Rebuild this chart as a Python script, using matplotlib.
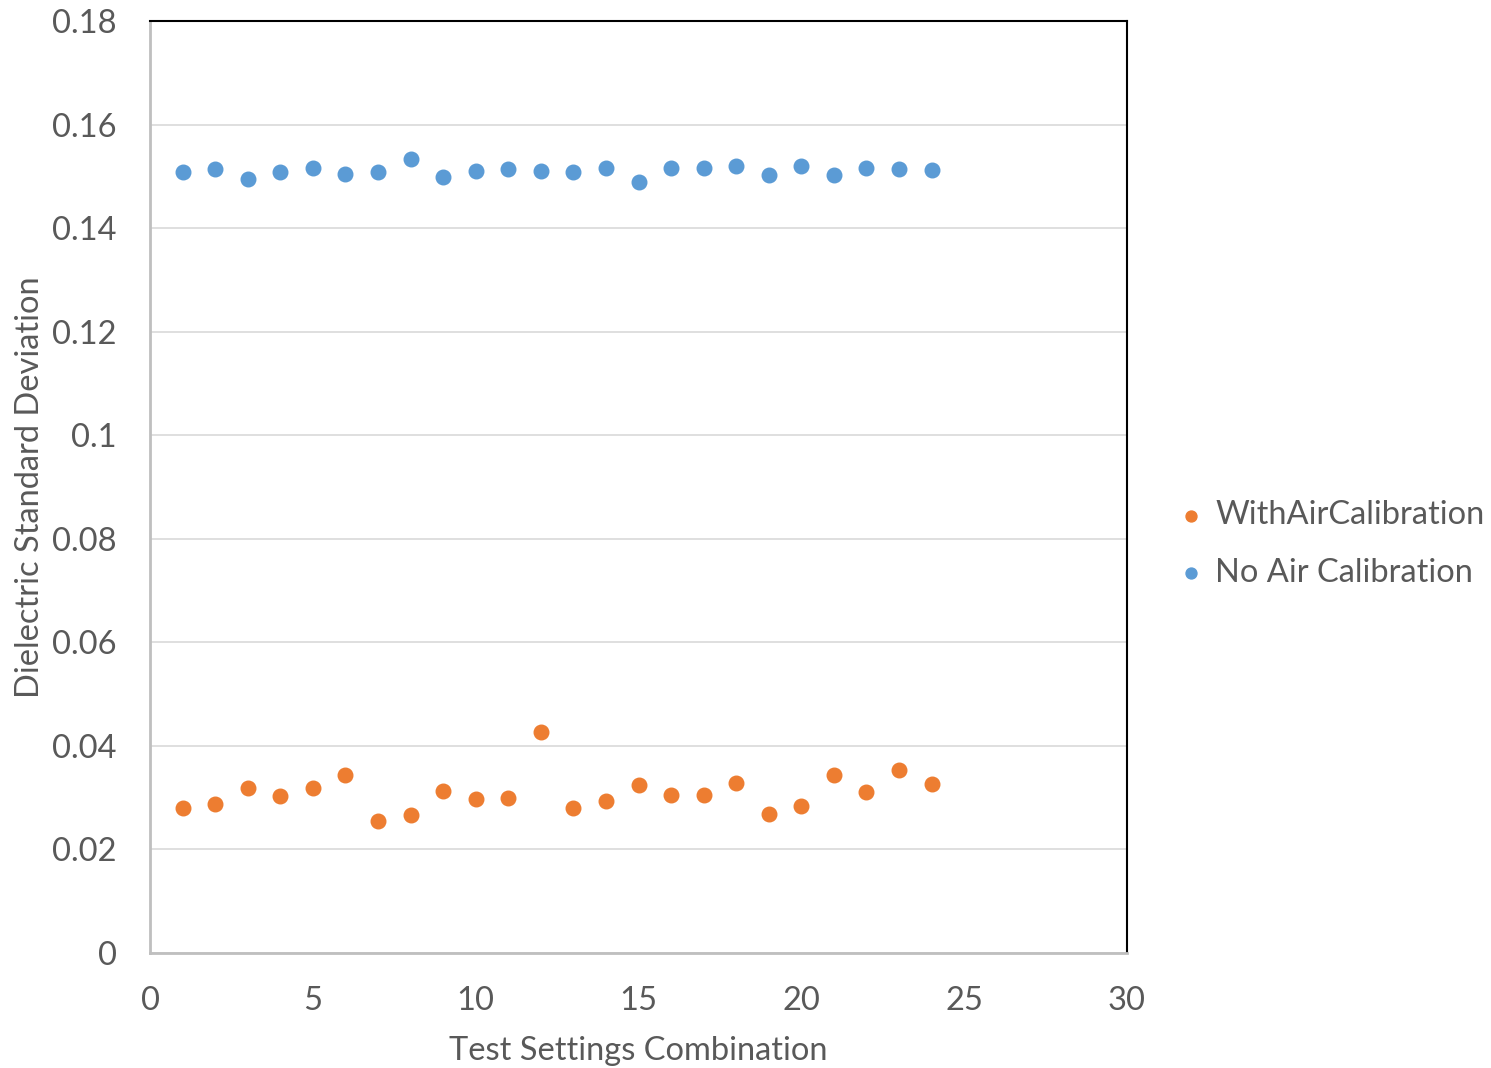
import matplotlib
matplotlib.use("Agg")
import matplotlib.pyplot as plt

combos = list(range(1, 25))
with_air = [0.0281, 0.0288, 0.0318, 0.0303, 0.0319, 0.0344, 0.0254, 0.0267,
            0.0312, 0.0297, 0.0299, 0.0426, 0.0281, 0.0293, 0.0324, 0.0305,
            0.0305, 0.0328, 0.0269, 0.0283, 0.0343, 0.0311, 0.0353, 0.0327]
no_air = [0.1509, 0.1514, 0.1495, 0.1509, 0.1516, 0.1504, 0.1508, 0.1534,
          0.1499, 0.1511, 0.1514, 0.1510, 0.1508, 0.1517, 0.1490, 0.1516,
          0.1517, 0.1520, 0.1503, 0.1519, 0.1503, 0.1517, 0.1515, 0.1512]

text_color = "#595959"
plt.rcParams["font.family"] = ["Lato", "DejaVu Sans"]
fs = 23.5

fig = plt.figure(figsize=(14.91, 10.68), dpi=100)
ax = fig.add_axes([150 / 1491, 1 - 953 / 1068, 977 / 1491, 932 / 1068])

ax.scatter(combos, with_air, s=110, color="#ED7D31", label="WithAirCalibration", zorder=3)
ax.scatter(combos, no_air, s=110, color="#5B9BD5", label="No Air Calibration", zorder=3)

ax.set_xlim(0, 30)
ax.set_ylim(0, 0.18)
ax.set_xticks([0, 5, 10, 15, 20, 25, 30])
ax.set_yticks([0, 0.02, 0.04, 0.06, 0.08, 0.1, 0.12, 0.14, 0.16, 0.18])
ax.set_yticklabels(["0", "0.02", "0.04", "0.06", "0.08", "0.1", "0.12", "0.14", "0.16", "0.18"])
ax.yaxis.grid(True, color="#d9d9d9", linewidth=1.2)
ax.set_axisbelow(True)
ax.tick_params(length=0, labelsize=fs, labelcolor=text_color)
ax.tick_params(axis="x", pad=24)
ax.tick_params(axis="y", pad=24)

for side in ("left", "bottom"):
    ax.spines[side].set_color("#bfbfbf")
    ax.spines[side].set_linewidth(2)
for side in ("top", "right"):
    ax.spines[side].set_color("black")
    ax.spines[side].set_linewidth(1.5)

ax.set_xlabel("Test Settings Combination", fontsize=fs, color=text_color, labelpad=14)
ax.set_ylabel("Dielectric Standard Deviation", fontsize=fs, color=text_color, labelpad=5)

fig.legend(loc="center left", bbox_to_anchor=(1181 / 1491, 1 - 544 / 1068), frameon=False,
           fontsize=fs, labelcolor=text_color, handlelength=0.6, handletextpad=0.45,
           markerscale=0.75, labelspacing=0.85, borderpad=0, borderaxespad=0)

fig.savefig("out.png", dpi=100)
